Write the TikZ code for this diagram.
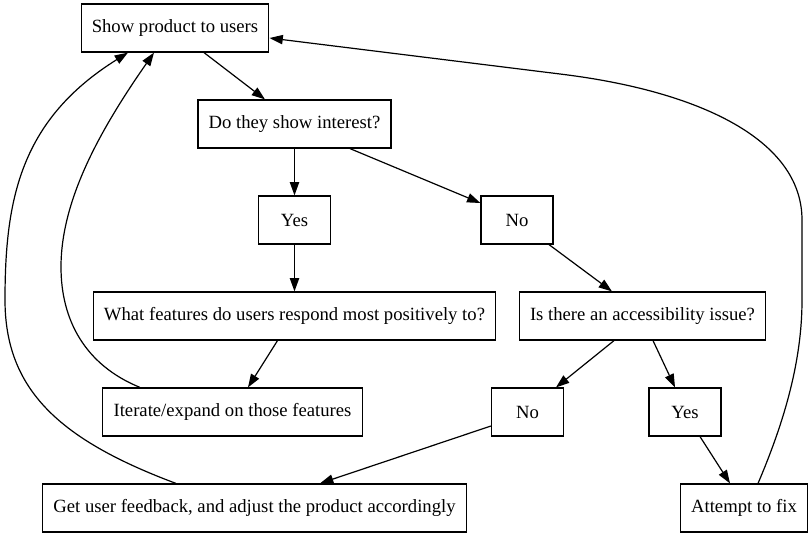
\documentclass[tikz,border=0pt]{standalone}
\usepackage{fontspec}
\setmainfont{Liberation Serif}
\usetikzlibrary{arrows.meta, positioning}
\tikzstyle{box} = [rectangle, 
minimum width=54pt, 
minimum height=36pt, 
inner xsep=8pt, 
text centered, 
draw=black, 
line width=0.9pt, 
font=\fontsize{14pt}{17pt}\selectfont]
\tikzstyle{arrow} = [line width=0.9pt,-{Triangle[length=10pt, width=7pt]}]
\begin{document}
\begin{tikzpicture}[x=0.75pt, y=-0.75pt, node distance=72pt]
    \useasboundingbox (0,0) rectangle (812,539);

    \node (show) [box] at (175,28) {Show product to users};

    \node (interest) [box, below of=show, xshift=89.625pt] {Do they show interest?};

    \node (yes1) [box, below of=interest] {Yes};
    \node (no1) [box, below of=interest, xshift=166.875pt] {No};

    \node (features) [box, below of=yes1] {What features do users respond most positively to?};
    \node (access) [box, below of=no1, xshift=94.125pt] {Is there an accessibility issue?};

    \node (iterate) [box, below of=features, xshift=-46.5pt] {Iterate/expand on those features};
    \node (no2) [box, below of=access, xshift=-86.25pt] {No};
    \node (yes2) [box, below of=access, xshift=31.875pt] {Yes};

    \node (feedback) [box, below of=iterate, xshift=16.5pt] {Get user feedback, and adjust the product accordingly};
    \node (attempt) [box, below of=yes2, xshift=44.25pt] {Attempt to fix};

    \draw [arrow] ([shift={(29,0)}]show.south) -- ([shift={(-29.5,0)}]interest.north);
    \draw [arrow] (interest) -- (yes1);
    \draw [arrow] ([shift={(55.5,0)}]interest.south) -- ([shift={(0,-17)}]no1.west);
    \draw [arrow] ([shift={(32,0)}]no1.south) -- ([shift={(-30.5,0)}]access.north);
    \draw [arrow] (yes1) -- (features);
    \draw [arrow] ([shift={(-17,0)}]features.south) -- ([shift={(15.5,0)}]iterate.north);
    \draw [arrow] ([shift={(-28.5,0)}]access.south) -- ([shift={(28.5,0)}]no2.north);
    \draw [arrow] ([shift={(10.5,0)}]access.south) -- ([shift={(-10,0)}]yes2.north);
    \draw [arrow] ([shift={(15,0)}]yes2.south) -- ([shift={(-14,0)}]attempt.north);
    \draw [arrow] ([shift={(0,14)}]no2.west) -- ([shift={(65.5,0)}]feedback.north);

    % back to the start
    \draw [arrow] ([shift={(-92.5,0)}]iterate.north) .. controls (85,365) and (61,320) .. (61,267)
        .. controls (61,200) and (100,130) .. ([shift={(-21,0)}]show.south);
    \draw [arrow] ([shift={(-78.5,0)}]feedback.north) .. controls (60,440) and (5,390) .. (5,300)
        .. controls (5,200) and (20,120) .. ([shift={(-47,0)}]show.south);
    \draw [arrow] ([shift={(14,0)}]attempt.north) .. controls (785,420) and (802,360) .. (802,300)
        -- (802,220) .. controls (802,140) and (700,91) .. (560,74) -- ([shift={(0,10)}]show.east);
\end{tikzpicture}
\end{document}
